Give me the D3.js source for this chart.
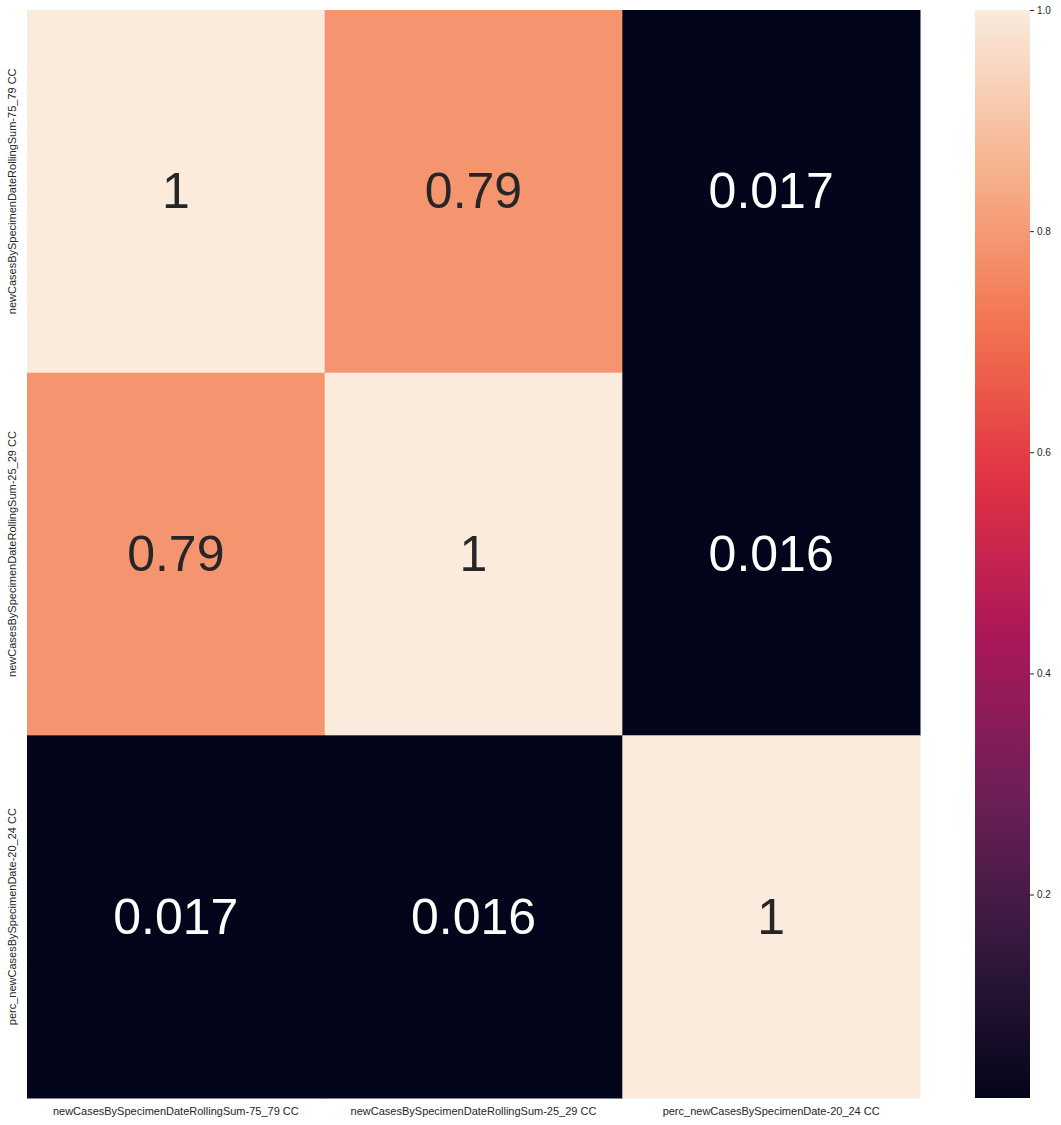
<!DOCTYPE html>
<html>
<head>
<meta charset="utf-8">
<script src="https://cdn.jsdelivr.net/npm/d3@7"></script>
<style>
  body { margin: 0; background: #fff; }
  svg { display: block; }
  text { font-family: "Liberation Sans", Arial, sans-serif; }
</style>
</head>
<body>
<svg id="chart" width="1061" height="1125"></svg>
<script>
const labels = [
  "newCasesBySpecimenDateRollingSum-75_79 CC",
  "newCasesBySpecimenDateRollingSum-25_29 CC",
  "perc_newCasesBySpecimenDate-20_24 CC"
];
const values = [
  [1, 0.79, 0.017],
  [0.79, 1, 0.016],
  [0.017, 0.016, 1]
];
const annotations = [
  ["1", "0.79", "0.017"],
  ["0.79", "1", "0.016"],
  ["0.017", "0.016", "1"]
];
const colorbarTicks = [0.2, 0.4, 0.6, 0.8, 1.0];
const rocketStops = ["#03051a", "#35193e", "#701f57", "#ad1759", "#e13342", "#f37651", "#f6b48f", "#faebdd"];

const svg = d3.select("#chart");
const m = { left: 27, top: 10, right: 920, bottom: 1098 };

const x = d3.scaleBand().domain(labels).range([m.left, m.right]);
const y = d3.scaleBand().domain(labels).range([m.top, m.bottom]);

const flat = values.flat();
const vmin = d3.min(flat), vmax = d3.max(flat);
const rocket = d3.scaleLinear()
  .domain(rocketStops.map((_, i) => i / (rocketStops.length - 1)))
  .range(rocketStops)
  .interpolate(d3.interpolateRgb);
const norm = d3.scaleLinear().domain([vmin, vmax]).range([0, 1]).clamp(true);
const color = v => rocket(norm(v));

const cells = [];
values.forEach((row, i) => row.forEach((v, j) => cells.push({ r: labels[i], c: labels[j], v, t: annotations[i][j] })));

svg.append("g").selectAll("rect").data(cells).join("rect")
  .attr("x", d => x(d.c)).attr("y", d => y(d.r))
  .attr("width", x.bandwidth() + 0.5).attr("height", y.bandwidth() + 0.5)
  .attr("fill", d => color(d.v));

svg.append("g").selectAll("text").data(cells).join("text")
  .attr("x", d => x(d.c) + x.bandwidth() / 2)
  .attr("y", d => y(d.r) + y.bandwidth() / 2)
  .attr("text-anchor", "middle").attr("dominant-baseline", "central")
  .attr("font-size", 50)
  .attr("fill", d => norm(d.v) > 0.5 ? "#262626" : "#ffffff")
  .text(d => d.t);

// x tick labels
svg.append("g").selectAll("text").data(labels).join("text")
  .attr("x", d => x(d) + x.bandwidth() / 2)
  .attr("y", 1115)
  .attr("text-anchor", "middle").attr("font-size", 11).attr("fill", "#262626")
  .text(d => d);

// y tick labels
svg.append("g").selectAll("text").data(labels).join("text")
  .attr("transform", d => `translate(15.5,${y(d) + y.bandwidth() / 2}) rotate(-90)`)
  .attr("text-anchor", "middle").attr("font-size", 11).attr("fill", "#262626")
  .text(d => d);

// colorbar
const cb = { x0: 975, x1: 1030, top: 10, bottom: 1098 };
const cy = d3.scaleLinear().domain([vmin, vmax]).range([cb.bottom, cb.top]);
const defs = svg.append("defs");
const grad = defs.append("linearGradient").attr("id", "cbgrad")
  .attr("x1", 0).attr("y1", 1).attr("x2", 0).attr("y2", 0);
d3.range(0, 1.0001, 0.02).forEach(t => {
  grad.append("stop").attr("offset", t).attr("stop-color", rocket(t));
});
svg.append("rect").attr("x", cb.x0).attr("y", cb.top)
  .attr("width", cb.x1 - cb.x0).attr("height", cb.bottom - cb.top)
  .attr("fill", "url(#cbgrad)");

const axis = d3.axisRight(cy).tickValues(colorbarTicks).tickFormat(d3.format(".1f")).tickSize(4).tickPadding(3);
const ag = svg.append("g").attr("transform", `translate(${cb.x1},0)`).call(axis);
ag.select(".domain").remove();
ag.selectAll(".tick line").attr("stroke", "#262626");
ag.selectAll(".tick text").attr("font-size", 10).attr("fill", "#262626")
  .attr("font-family", "'Liberation Sans', Arial, sans-serif");
</script>
</body>
</html>
